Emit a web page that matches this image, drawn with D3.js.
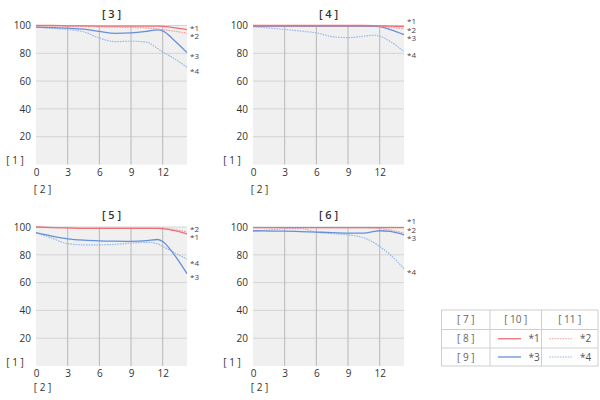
<!DOCTYPE html>
<html><head><meta charset="utf-8">
<script src="https://cdn.jsdelivr.net/npm/d3@7"></script>
<style>
body{margin:0;background:#fff;}
svg text{font-family:"Open Sans","Noto Sans",sans-serif;fill:#333;}
</style></head>
<body><svg id="c" width="600" height="400"></svg>
<script>
// ---- data ----
const xs = [0, 1.5, 3, 4.5, 6, 7.5, 9, 10.5, 11.5, 12, 13, 14.3];
const xTicks = [0, 3, 6, 9, 12];
const yTicks = [20, 40, 60, 80, 100];
const seriesNames = ["*1", "*2", "*3", "*4"];
const panelTitles = ["[ 3 ]", "[ 4 ]", "[ 5 ]", "[ 6 ]"];
const yAxisLabel = "[ 1 ]";
const xAxisLabel = "[ 2 ]";

const p3s1 = [100, 100, 99.8, 99.7, 99.6, 99.5, 99.5, 99.5, 99.5, 99.4, 98.5, 97.1];
const p3s2 = [100, 99.8, 99.5, 99.3, 99, 98.8, 98.6, 98.3, 97.5, 97, 96, 94.5];
const p3s3 = [98.8, 98.5, 98.1, 97.4, 95.7, 94.4, 94.7, 95.8, 96.8, 96.2, 90, 80.5];
const p3s4 = [98.8, 98, 97.1, 95.5, 91, 88.4, 88.7, 88, 83.5, 81, 76.6, 70];

const p4s1 = [100, 100, 100, 100, 100, 100, 100, 100, 99.9, 99.8, 99.5, 99.3];
const p4s2 = [99.8, 99.8, 99.8, 99.8, 99.8, 99.8, 99.8, 99.8, 99.7, 99.5, 98.7, 97.6];
const p4s3 = [99.3, 99.3, 99.3, 99.3, 99.3, 99.3, 99.3, 99.4, 99.4, 99.2, 97, 93.4];
const p4s4 = [99, 98.2, 97.2, 96, 94.7, 92, 91.3, 92.3, 93, 92.3, 88.5, 81.2];

const p5s1 = [100, 99.6, 99.3, 99, 99, 99, 99, 99, 99, 98.8, 97.5, 95];
const p5s2 = [100, 99.7, 99.4, 99.2, 99.2, 99.2, 99.2, 99.2, 99.2, 99, 98.2, 96.5];
const p5s3 = [96, 93.5, 91.5, 90.5, 90, 89.8, 89.7, 90.2, 91, 89.6, 81, 66.5];
const p5s4 = [96, 92, 88, 87.2, 87.2, 87.5, 88.4, 89, 88, 86, 82, 76.8];

const p6s1 = [99.6, 99.6, 99.6, 99.6, 99.6, 99.6, 99.6, 99.6, 99.6, 99.6, 99.6, 99.5];
const p6s2 = [99.6, 99.6, 99.6, 99.6, 99.6, 99.6, 99.6, 99.5, 99.3, 99, 97.8, 95.7];
const p6s3 = [97.3, 97.1, 97, 96.7, 96.3, 96, 95.6, 95.6, 96.8, 97.3, 96.8, 94.4];
const p6s4 = [96.9, 97.8, 98.8, 98.8, 96.3, 95.2, 94.4, 92.2, 88.5, 86, 80, 70];

const legendHeader = ["[ 7 ]", "[ 10 ]", "[ 11 ]"];
const legendRows = ["[ 8 ]", "[ 9 ]"];

// ---- styles ----
const colors = ["#ee7075", "#f39ca2", "#6690d8", "#9ab8ea"];
const dashes = [null, "1.6,1", null, "1.6,1"];
const widths = [1.3, 1.2, 1.3, 1.2];

const panelData = [
  [p3s1, p3s2, p3s3, p3s4],
  [p4s1, p4s2, p4s3, p4s4],
  [p5s1, p5s2, p5s3, p5s4],
  [p6s1, p6s2, p6s3, p6s4]
];
const panelPos = [
  {left: 36, top: 25.5}, {left: 253, top: 25.5},
  {left: 36, top: 227}, {left: 253, top: 227}
];
const W = 151, H = 139;

const svg = d3.select("#c");

panelData.forEach((series, pi) => {
  const pos = panelPos[pi];
  const g = svg.append("g").attr("transform", `translate(${pos.left},${pos.top})`);
  const x = d3.scaleLinear().domain([0, 14.3]).range([0, W]);
  const y = d3.scaleLinear().domain([0, 100]).range([H, 0]);

  g.append("rect").attr("width", W).attr("height", H).attr("fill", "#f0f0f0");
  g.selectAll(".hg").data(yTicks).join("line")
    .attr("x1", 0).attr("x2", W).attr("y1", d => y(d)).attr("y2", d => y(d))
    .attr("stroke", "#d4d4d4").attr("stroke-width", 1);
  g.selectAll(".vg").data(xTicks.filter(d => d > 0)).join("line")
    .attr("y1", 0).attr("y2", H).attr("x1", d => x(d)).attr("x2", d => x(d))
    .attr("stroke", "#b8b8b8").attr("stroke-width", 1);

  const ya = g.append("g").call(d3.axisLeft(y).tickValues(yTicks).tickSize(0).tickPadding(5));
  ya.select(".domain").remove();
  ya.selectAll("text").attr("font-size", 10).style("fill", "#333");
  const xa = g.append("g").attr("transform", `translate(0,${H})`)
    .call(d3.axisBottom(x).tickValues(xTicks).tickSize(0).tickPadding(4));
  xa.select(".domain").remove();
  xa.selectAll("text").attr("font-size", 10).style("fill", "#333");

  g.append("text").attr("x", W / 2).attr("y", -8).attr("text-anchor", "middle")
    .attr("font-size", 11).attr("font-weight", 600).text(panelTitles[pi]);
  g.append("text").attr("x", -21).attr("y", H - 0.5).attr("text-anchor", "middle")
    .attr("font-size", 10).text(yAxisLabel);
  g.append("text").attr("x", 6.5).attr("y", pi < 2 ? H + 28 : H + 25).attr("text-anchor", "middle")
    .attr("font-size", 10).text(xAxisLabel);

  const line = d3.line().x((d, i) => x(xs[i])).y(d => y(d)).curve(d3.curveMonotoneX);
  [3, 2, 1, 0].forEach(si => {
    g.append("path").attr("d", line(series[si])).attr("fill", "none")
      .attr("stroke", colors[si]).attr("stroke-width", widths[si])
      .attr("stroke-dasharray", dashes[si]);
  });

  // end labels with collision avoidance (push upward)
  const labs = series.map((s, si) => ({name: seriesNames[si], want: y(s[s.length - 1]) + 3.5}));
  labs.sort((a, b) => b.want - a.want);
  let prev = Infinity;
  labs.forEach(l => { l.y = Math.min(l.want, prev - 8.3); prev = l.y; });
  g.selectAll(".lab").data(labs).join("text")
    .attr("x", W + 3).attr("y", d => d.y).attr("dy", "0.35em")
    .attr("font-size", 8).style("fill", "#444").text(d => d.name);
});

// ---- legend table ----
const colW = [48.5, 51.5, 56.5];
const rowH = [19.5, 18.5, 18];
const lx = 441.5, ly = 310;
const lg = svg.append("g");
const colX = [lx, lx + colW[0], lx + colW[0] + colW[1], lx + colW[0] + colW[1] + colW[2]];
const rowY = [ly, ly + rowH[0], ly + rowH[0] + rowH[1], ly + rowH[0] + rowH[1] + rowH[2]];
lg.append("rect").attr("x", colX[0]).attr("y", rowY[0]).attr("width", colX[3] - colX[0])
  .attr("height", rowY[3] - rowY[0]).attr("fill", "#fff").attr("stroke", "#cfcfcf");
colX.slice(1, 3).forEach(cx => lg.append("line").attr("x1", cx).attr("x2", cx)
  .attr("y1", rowY[0]).attr("y2", rowY[3]).attr("stroke", "#cfcfcf"));
rowY.slice(1, 3).forEach(ry => lg.append("line").attr("y1", ry).attr("y2", ry)
  .attr("x1", colX[0]).attr("x2", colX[3]).attr("stroke", "#cfcfcf"));
legendHeader.forEach((t, i) => lg.append("text").attr("x", (colX[i] + colX[i + 1]) / 2)
  .attr("y", (rowY[0] + rowY[1]) / 2).attr("dy", "0.35em").attr("text-anchor", "middle")
  .attr("font-size", 10).style("fill", "#666").text(t));
legendRows.forEach((t, r) => {
  const cy = (rowY[r + 1] + rowY[r + 2]) / 2;
  lg.append("text").attr("x", (colX[0] + colX[1]) / 2).attr("y", cy).attr("dy", "0.35em")
    .attr("text-anchor", "middle").attr("font-size", 10).style("fill", "#666").text(t);
  [0, 1].forEach(c => {
    const si = r * 2 + c;
    const x0 = colX[c + 1] + 8;
    lg.append("line").attr("x1", x0).attr("x2", x0 + 23).attr("y1", cy).attr("y2", cy)
      .attr("stroke", colors[si]).attr("stroke-width", widths[si])
      .attr("stroke-dasharray", dashes[si]);
    lg.append("text").attr("x", x0 + 36).attr("y", cy).attr("dy", "0.35em")
      .attr("text-anchor", "middle").attr("font-size", 10).style("fill", "#555").text(seriesNames[si]);
  });
});
</script></body></html>
